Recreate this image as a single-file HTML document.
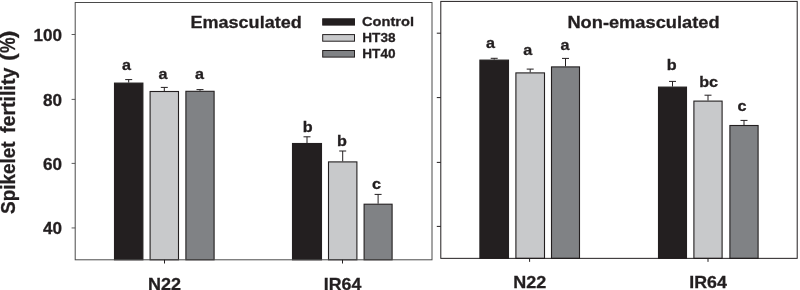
<!DOCTYPE html><html><head><meta charset="utf-8"><style>html,body{margin:0;padding:0;background:#fff}svg{display:block;will-change:transform;transform:translateZ(0)}text{font-family:"Liberation Sans",sans-serif;font-weight:bold;fill:#231f20;stroke:#231f20;stroke-width:0.3px}</style></head><body>
<svg width="800" height="290" viewBox="0 0 800 290">
<rect width="800" height="290" fill="#fff"/>
<path d="M128.70 82.60V79.60M125.20 79.60H132.20" stroke="#231f20" stroke-width="1" fill="none"/>
<rect x="114.50" y="83.10" width="28.40" height="176.70" fill="#231f20" stroke="#231f20" stroke-width="1.1"/>
<path d="M164.30 91.00V87.40M160.80 87.40H167.80" stroke="#231f20" stroke-width="1" fill="none"/>
<rect x="150.10" y="91.50" width="28.40" height="168.30" fill="#c8c9cb" stroke="#231f20" stroke-width="1.1"/>
<path d="M200.00 90.80V89.60M196.50 89.60H203.50" stroke="#231f20" stroke-width="1" fill="none"/>
<rect x="185.90" y="91.30" width="28.20" height="168.50" fill="#808285" stroke="#231f20" stroke-width="1.1"/>
<path d="M307.00 143.00V136.80M303.50 136.80H310.50" stroke="#231f20" stroke-width="1" fill="none"/>
<rect x="292.50" y="143.50" width="29.00" height="116.30" fill="#231f20" stroke="#231f20" stroke-width="1.1"/>
<path d="M342.70 161.40V151.00M339.20 151.00H346.20" stroke="#231f20" stroke-width="1" fill="none"/>
<rect x="328.50" y="161.90" width="28.40" height="97.90" fill="#c8c9cb" stroke="#231f20" stroke-width="1.1"/>
<path d="M378.10 203.70V194.40M374.60 194.40H381.60" stroke="#231f20" stroke-width="1" fill="none"/>
<rect x="364.10" y="204.20" width="28.00" height="55.60" fill="#808285" stroke="#231f20" stroke-width="1.1"/>
<rect x="75.2" y="2.5" width="356.8" height="257.3" fill="none" stroke="#4a4a4a" stroke-width="1"/>
<path d="M71.60000000000001 34.5H75.2" stroke="#4a4a4a" stroke-width="0.9"/>
<path d="M71.60000000000001 99.4H75.2" stroke="#4a4a4a" stroke-width="0.9"/>
<path d="M71.60000000000001 163.4H75.2" stroke="#4a4a4a" stroke-width="0.9"/>
<path d="M71.60000000000001 227.95H75.2" stroke="#4a4a4a" stroke-width="0.9"/>
<path d="M164.5 259.8V263.5" stroke="#231f20" stroke-width="1"/>
<path d="M342.5 259.8V263.5" stroke="#231f20" stroke-width="1"/>
<text x="62.0" y="40.8" font-size="17.1" text-anchor="end">100</text>
<text x="62.0" y="106.1" font-size="17.1" text-anchor="end">80</text>
<text x="62.0" y="169.6" font-size="17.1" text-anchor="end">60</text>
<text x="62.0" y="234.4" font-size="17.1" text-anchor="end">40</text>
<path d="M494.20 59.60V58.30M490.70 58.30H497.70" stroke="#231f20" stroke-width="1" fill="none"/>
<rect x="479.90" y="60.10" width="28.60" height="198.25" fill="#231f20" stroke="#231f20" stroke-width="1.1"/>
<path d="M530.20 72.40V69.10M526.70 69.10H533.70" stroke="#231f20" stroke-width="1" fill="none"/>
<rect x="515.90" y="72.90" width="28.60" height="185.45" fill="#c8c9cb" stroke="#231f20" stroke-width="1.1"/>
<path d="M565.50 66.40V58.40M562.00 58.40H569.00" stroke="#231f20" stroke-width="1" fill="none"/>
<rect x="551.50" y="66.90" width="28.00" height="191.45" fill="#808285" stroke="#231f20" stroke-width="1.1"/>
<path d="M672.50 86.60V81.40M669.00 81.40H676.00" stroke="#231f20" stroke-width="1" fill="none"/>
<rect x="658.50" y="87.10" width="28.00" height="171.25" fill="#231f20" stroke="#231f20" stroke-width="1.1"/>
<path d="M708.00 100.60V95.20M704.50 95.20H711.50" stroke="#231f20" stroke-width="1" fill="none"/>
<rect x="693.90" y="101.10" width="28.20" height="157.25" fill="#c8c9cb" stroke="#231f20" stroke-width="1.1"/>
<path d="M744.00 125.00V120.40M740.50 120.40H747.50" stroke="#231f20" stroke-width="1" fill="none"/>
<rect x="729.90" y="125.50" width="28.20" height="132.85" fill="#808285" stroke="#231f20" stroke-width="1.1"/>
<rect x="440.8" y="1.4" width="356.40000000000003" height="256.95000000000005" fill="none" stroke="#231f20" stroke-width="1"/>
<path d="M436.8 33.2H440.8" stroke="#231f20" stroke-width="1"/>
<path d="M436.8 97.6H440.8" stroke="#231f20" stroke-width="1"/>
<path d="M436.8 162.4H440.8" stroke="#231f20" stroke-width="1"/>
<path d="M436.8 226.4H440.8" stroke="#231f20" stroke-width="1"/>
<path d="M529.6 258.35V261.85" stroke="#231f20" stroke-width="1"/>
<path d="M708 258.35V261.85" stroke="#231f20" stroke-width="1"/>
<text x="126.6" y="70.0" font-size="15.1" text-anchor="middle" textLength="9.0" lengthAdjust="spacingAndGlyphs">a</text>
<text x="163.1" y="79.4" font-size="15.1" text-anchor="middle" textLength="9.0" lengthAdjust="spacingAndGlyphs">a</text>
<text x="199.6" y="79.4" font-size="15.1" text-anchor="middle" textLength="9.0" lengthAdjust="spacingAndGlyphs">a</text>
<text x="307.7" y="132.4" font-size="15.1" text-anchor="middle" textLength="9.9" lengthAdjust="spacingAndGlyphs">b</text>
<text x="342" y="146.4" font-size="15.1" text-anchor="middle" textLength="9.9" lengthAdjust="spacingAndGlyphs">b</text>
<text x="376.4" y="188.8" font-size="15.1" text-anchor="middle" textLength="9.0" lengthAdjust="spacingAndGlyphs">c</text>
<text x="490.5" y="48.0" font-size="15.1" text-anchor="middle" textLength="9.0" lengthAdjust="spacingAndGlyphs">a</text>
<text x="527.8" y="54.8" font-size="15.1" text-anchor="middle" textLength="9.0" lengthAdjust="spacingAndGlyphs">a</text>
<text x="565" y="50.4" font-size="15.1" text-anchor="middle" textLength="9.0" lengthAdjust="spacingAndGlyphs">a</text>
<text x="671.7" y="70.4" font-size="15.1" text-anchor="middle" textLength="9.9" lengthAdjust="spacingAndGlyphs">b</text>
<text x="708.6" y="87.4" font-size="15.1" text-anchor="middle" textLength="18.9" lengthAdjust="spacingAndGlyphs">bc</text>
<text x="742" y="111.4" font-size="15.1" text-anchor="middle" textLength="9.0" lengthAdjust="spacingAndGlyphs">c</text>
<text x="246.1" y="27.6" font-size="17.4" text-anchor="middle" textLength="111.2" lengthAdjust="spacingAndGlyphs">Emasculated</text>
<text x="643.5" y="28.1" font-size="17.4" text-anchor="middle" textLength="152.2" lengthAdjust="spacingAndGlyphs">Non-emasculated</text>
<text x="164.5" y="289.8" font-size="17.3" text-anchor="middle" textLength="33.0" lengthAdjust="spacingAndGlyphs">N22</text>
<text x="342.5" y="289.8" font-size="17.3" text-anchor="middle" textLength="37.6" lengthAdjust="spacingAndGlyphs">IR64</text>
<text x="529.7" y="288.3" font-size="17.3" text-anchor="middle" textLength="33.0" lengthAdjust="spacingAndGlyphs">N22</text>
<text x="708" y="288.3" font-size="17.3" text-anchor="middle" textLength="37.6" lengthAdjust="spacingAndGlyphs">IR64</text>
<text transform="translate(15.2,214.0) rotate(-90)" font-size="20.5" textLength="72.65" lengthAdjust="spacingAndGlyphs">Spikelet</text>
<text transform="translate(15.2,133.0) rotate(-90)" font-size="20.5" textLength="65.3" lengthAdjust="spacingAndGlyphs">fertility</text>
<text transform="translate(15.2,61.0) rotate(-90)" font-size="20.5" textLength="7.6" lengthAdjust="spacingAndGlyphs">(</text>
<text transform="translate(15.2,53.0) rotate(-90)" font-size="22.5" textLength="15.6" lengthAdjust="spacingAndGlyphs">%</text>
<text transform="translate(15.2,38.3) rotate(-90)" font-size="20.5" textLength="7.6" lengthAdjust="spacingAndGlyphs">)</text>
<rect x="322.7" y="18.8" width="31.80000000000001" height="6.300000000000001" fill="#231f20" stroke="#231f20" stroke-width="1"/>
<rect x="322.7" y="34.6" width="31.80000000000001" height="6.600000000000001" fill="#c8c9cb" stroke="#231f20" stroke-width="1"/>
<rect x="322.7" y="50.5" width="31.80000000000001" height="6.600000000000001" fill="#808285" stroke="#231f20" stroke-width="1"/>
<text x="362.0" y="26.15" font-size="13.1" text-anchor="start" textLength="52" lengthAdjust="spacingAndGlyphs">Control</text>
<text x="362.3" y="42.35" font-size="13.1" text-anchor="start" textLength="33.2" lengthAdjust="spacingAndGlyphs">HT38</text>
<text x="362.3" y="58.35" font-size="13.1" text-anchor="start" textLength="33.2" lengthAdjust="spacingAndGlyphs">HT40</text>
</svg></body></html>
